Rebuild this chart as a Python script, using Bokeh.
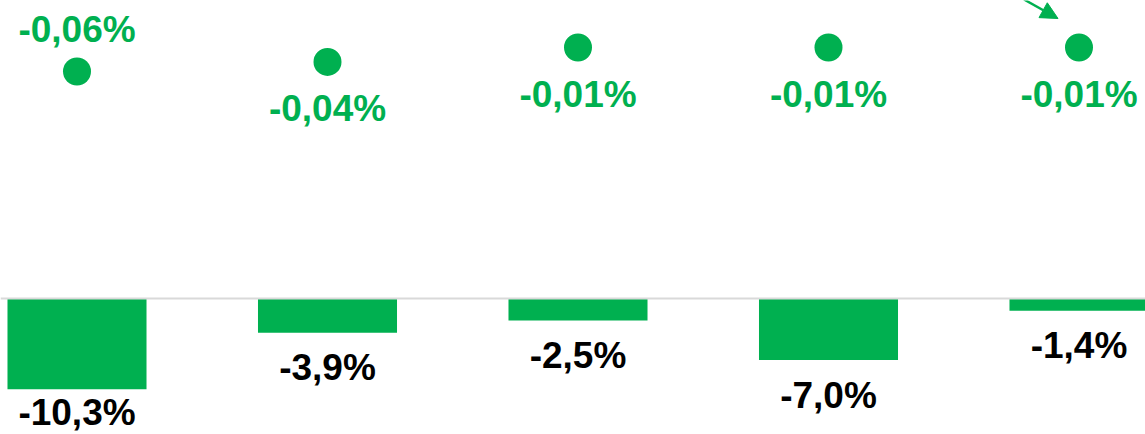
from bokeh.plotting import figure
from bokeh.models import Range1d, Span, Arrow, NormalHead, ColumnDataSource
from bokeh.core.properties import value
from bokeh.embed import file_html
from bokeh.resources import INLINE

# ---- data ----
categories = ["1", "2", "3", "4", "5"]
bar_values = [-10.3, -3.9, -2.5, -7.0, -1.4]
bar_labels = ["-10,3%", "-3,9%", "-2,5%", "-7,0%", "-1,4%"]
dot_values = [-0.06, -0.04, -0.01, -0.01, -0.01]
dot_labels = ["-0,06%", "-0,04%", "-0,01%", "-0,01%", "-0,01%"]

GREEN = "#00B050"
W, H = 1145, 434
FONT_SIZE = "37px"

# layout constants (pixels within the frame)
X_PX = 250.5          # px per category
X0 = -76.5 / X_PX     # left data bound
BASE_PX = 298         # baseline (zero) from frame top
Y_PX = 8.8            # px per percent on bars axis
S_ZERO = 42.2         # zero of secondary axis from frame top
S_PX = 480.0          # px per unit on secondary axis

x = list(range(len(categories)))
p = figure(width=W, height=H, output_backend="svg", toolbar_location=None,
           min_border=0, outline_line_color=None)
p.x_range = Range1d(X0, X0 + W / X_PX)
p.y_range = Range1d(-(H - BASE_PX) / Y_PX, BASE_PX / Y_PX)
p.extra_y_ranges = {"sec": Range1d(-(H - S_ZERO) / S_PX, S_ZERO / S_PX)}
p.xaxis.visible = False
p.yaxis.visible = False
p.xgrid.visible = False
p.ygrid.visible = False
p.background_fill_color = "white"
p.border_fill_color = "white"

p.add_layout(Span(location=0, dimension="width", line_color="#D9D9D9", line_width=2))

src = ColumnDataSource(dict(x=x, v=bar_values, lab=bar_labels, d=dot_values, dl=dot_labels))
p.vbar(x="x", top="v", bottom=0, width=0.555, source=src, color=GREEN, line_color=None)

# bar labels below bars (clamped to plot bottom)
def bar_label_y(v):
    px = BASE_PX - v * Y_PX + 35
    px = min(px, H - 22)
    return (BASE_PX - px) / Y_PX

src.data["ly"] = [bar_label_y(v) for v in bar_values]
p.text(x="x", y="ly", text="lab", source=src, text_align="center", text_baseline="middle",
       text_font=value("Liberation Sans"), text_font_style="bold", text_font_size=FONT_SIZE,
       text_color="black")

# dots on secondary scale
p.scatter(x="x", y="d", source=src, size=28, color=GREEN, line_color=None, y_range_name="sec")

def dot_label_y(i, d):
    off = -42 if i == 0 else 47
    return d - off / S_PX

src.data["dy"] = [dot_label_y(i, d) for i, d in enumerate(dot_values)]
p.text(x="x", y="dy", text="dl", source=src, text_align="center", text_baseline="middle",
       text_font=value("Liberation Sans"), text_font_style="bold", text_font_size=FONT_SIZE,
       text_color=GREEN, y_range_name="sec")

# arrow pointing to last dot
last = len(categories) - 1
p.add_layout(Arrow(end=NormalHead(size=17, fill_color=GREEN, line_color=GREEN),
                   line_color=GREEN, line_width=2.5,
                   x_start=last - 55 / X_PX, y_start=dot_values[last] + 48 / S_PX,
                   x_end=last - 21 / X_PX, y_end=dot_values[last] + 29 / S_PX,
                   y_range_name="sec"))

open("out.html", "w").write(file_html(p, INLINE))
